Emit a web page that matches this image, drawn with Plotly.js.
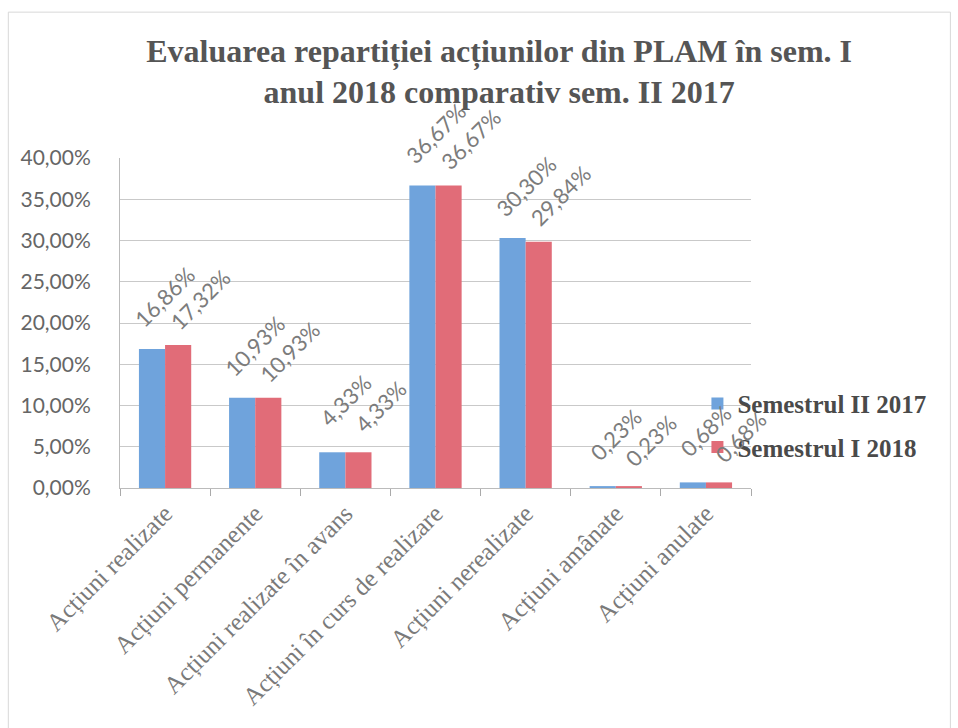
<!DOCTYPE html>
<html><head><meta charset="utf-8">
<script src="https://cdn.plot.ly/plotly-3.0.1.min.js"></script>
<style>body{margin:0;background:#fff}#chart{width:958px;height:728px}</style>
</head><body><div id="chart"></div>
<script>
const categories = ["Acțiuni realizate","Acțiuni permanente","Acțiuni realizate în avans","Acțiuni în curs de realizare","Acțiuni nerealizate","Acțiuni amânate","Acțiuni anulate"];
const sem2_2017 = [0.1686,0.1093,0.0433,0.3667,0.3030,0.0023,0.0068];
const sem1_2018 = [0.1732,0.1093,0.0433,0.3667,0.2984,0.0023,0.0068];
const seriesNames = ["Semestrul II 2017","Semestrul I 2018"];
const yTicks = [0,0.05,0.10,0.15,0.20,0.25,0.30,0.35,0.40];

const colors = ["#6fa3dc","#e16c78"];
const labelFont = {family:"Lato, Open Sans, sans-serif", size:22, color:"#7c7c7c"};
const shifts = [{x:0,y:52},{x:35,y:46}];
function fmt(v){ return (v*100).toFixed(2).replace(".",",")+"%"; }

const data=[sem2_2017,sem1_2018].map((vals,i)=>({
  type:"bar", x:categories, y:vals, name:seriesNames[i], legendgroup:"g"+i,
  marker:{color:colors[i]}, hoverinfo:"none"}));

const annotations=[];
[sem2_2017,sem1_2018].forEach((vals,i)=>{
  vals.forEach((v,j)=>{
    annotations.push({x:categories[j], y:v, xref:"x", yref:"y", text:fmt(v), showarrow:false,
      textangle:-45, xanchor:"center", yanchor:"middle", xshift:shifts[i].x, yshift:shifts[i].y,
      font:labelFont});
  });
});

const layout={
  width:958,height:728,separators:",.",
  paper_bgcolor:"#fff",plot_bgcolor:"#fff",
  margin:{l:120,r:207,t:158,b:240,autoexpand:false},
  bargap:0.42,bargroupgap:0,
  title:{text:"Evaluarea repartiției acțiunilor din PLAM în sem. I<br>anul 2018 comparativ sem. II 2017",
    font:{family:"Liberation Serif, Times New Roman, serif",size:32,color:"#555",weight:"bold"},
    x:0.521,xref:"container",xanchor:"center",y:0.915,yref:"container",yanchor:"top"},
  xaxis:{type:"category",range:[-0.5,categories.length-0.5],tickangle:-45,ticks:"outside",tickson:"boundaries",ticklen:7,tickcolor:"#aaa",
    showline:true,linecolor:"#bbb",showgrid:false,automargin:false,
    tickfont:{family:"Liberation Serif, Times New Roman, serif",size:25,color:"#7a7a7a"}},
  yaxis:{range:[0,0.40],tickvals:yTicks,tickformat:".2%",showline:true,linecolor:"#bbb",
    gridcolor:"#c9c9c9",zeroline:false,ticks:"",ticklabelstandoff:24,automargin:false,
    tickfont:{family:"Lato, Open Sans, sans-serif",size:21,color:"#666"}},
  legend:{x:0.728,xref:"container",xanchor:"left",y:0.416,yref:"container",yanchor:"middle",bgcolor:"rgba(0,0,0,0)",
    font:{family:"Liberation Serif, Times New Roman, serif",size:25,color:"#4a4a4a",weight:"bold"},
    traceorder:"grouped",tracegroupgap:8,itemwidth:30},
  showlegend:true,
  annotations:annotations,
  shapes:[{type:"rect",xref:"paper",yref:"paper",x0:-0.177,x1:1.316,y0:-0.73,y1:1.442,line:{color:"#d8d8d8",width:1}}]
};
Plotly.newPlot("chart",data,layout,{staticPlot:true});
</script></body></html>
